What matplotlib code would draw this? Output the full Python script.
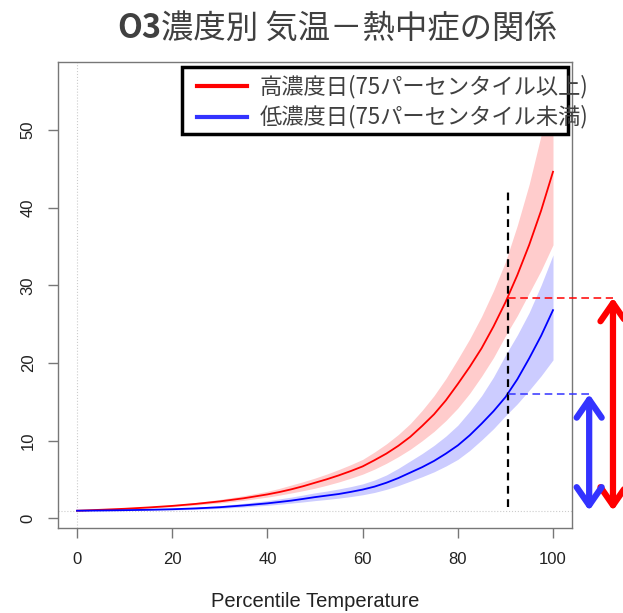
import matplotlib
matplotlib.use("Agg")
import matplotlib.pyplot as plt
from matplotlib.patches import Rectangle
from matplotlib.lines import Line2D

# percentile of temperature (denser above 40 where the curves bend)
pct = [0, 5, 10, 15, 20, 25, 30, 35,
       40, 42.5, 45, 47.5, 50, 52.5, 55, 57.5,
       60, 62.5, 65, 67.5, 70, 72.5, 75, 77.5, 80, 82.5,
       85, 87.5, 90, 92.5, 95, 97.5, 100]

# high-ozone days (>= 75th percentile): relative risk and 95% CI
high_rr = [1.0, 1.12, 1.25, 1.42, 1.62, 1.88, 2.2, 2.6,
           3.1, 3.4, 3.75, 4.15, 4.6, 5.05, 5.55, 6.1,
           6.7, 7.5, 8.35, 9.35, 10.5, 11.9, 13.4, 15.2, 17.3, 19.5,
           21.9, 24.7, 27.8, 31.3, 35.2, 39.6, 44.6]
high_lo = [1.0, 1.1, 1.2, 1.34, 1.5, 1.73, 2.0, 2.33,
           2.75, 3.0, 3.28, 3.58, 3.9, 4.28, 4.7, 5.18,
           5.7, 6.35, 7.1, 7.95, 8.9, 10.0, 11.2, 12.6, 14.2, 16.1,
           18.3, 20.7, 23.5, 26.1, 29.0, 31.9, 35.2]
high_hi = [1.0, 1.15, 1.3, 1.5, 1.75, 2.07, 2.45, 2.93,
           3.5, 3.87, 4.3, 4.73, 5.2, 5.72, 6.3, 6.92,
           7.6, 8.55, 9.6, 10.8, 12.2, 13.9, 15.8, 18.0, 20.5, 23.1,
           26.0, 29.3, 33.0, 37.7, 43.0, 49.3, 56.5]

# low-ozone days (< 75th percentile)
low_rr = [1.0, 1.03, 1.07, 1.12, 1.19, 1.3, 1.45, 1.68,
          1.95, 2.12, 2.3, 2.52, 2.75, 2.95, 3.15, 3.42,
          3.72, 4.1, 4.6, 5.2, 5.9, 6.6, 7.4, 8.35, 9.4, 10.7,
          12.2, 13.8, 15.6, 17.9, 20.6, 23.5, 26.8]
low_lo = [1.0, 1.01, 1.02, 1.05, 1.1, 1.18, 1.3, 1.48,
          1.7, 1.83, 1.98, 2.13, 2.3, 2.45, 2.62, 2.82,
          3.05, 3.35, 3.75, 4.23, 4.8, 5.37, 6.0, 6.75, 7.6, 8.75,
          10.1, 11.55, 13.2, 14.75, 16.5, 18.35, 20.4]
low_hi = [1.0, 1.06, 1.12, 1.2, 1.3, 1.45, 1.65, 1.95,
          2.3, 2.52, 2.75, 3.02, 3.3, 3.53, 3.8, 4.1,
          4.45, 4.95, 5.6, 6.45, 7.4, 8.35, 9.4, 10.6, 12.0, 13.8,
          15.8, 18.2, 21.0, 23.6, 26.5, 30.0, 33.9]

# value read at the 90th-ish percentile
ref_pct = 90.5
ref_high = 28.4
ref_low = 16.0

legend_labels = ["高濃度日(75パーセンタイル以上)", "低濃度日(75パーセンタイル未満)"]
title_bold = "O3"
title_rest = "濃度別 気温－熱中症の関係"
xlabel = "Percentile Temperature"

JP = ["Noto Sans CJK JP", "DejaVu Sans"]
plt.rcParams["font.family"] = ["Liberation Sans", "DejaVu Sans"]

fig = plt.figure(figsize=(6.23, 6.13), dpi=100)
ax = fig.add_axes([0.0931, 0.1387, 0.8251, 0.7602])

# confidence bands and curves
ax.fill_between(pct, high_lo, high_hi, color="#ffcccc", lw=0, zorder=1)
ax.fill_between(pct, low_lo, low_hi, color="#ccccff", lw=0, zorder=1)
ax.plot(pct, high_rr, color="#ff0000", lw=1.3, zorder=3)
ax.plot(pct, low_rr, color="#0000ff", lw=1.3, zorder=3)

# reference lines at RR = 1 and x = 0
ax.axhline(1, color="#cccccc", lw=0.8, ls=":", zorder=0)
ax.axvline(0, color="#cccccc", lw=0.8, ls=":", zorder=0)

# axis ranges: R style, 4% padding
lo_all = min(high_lo + low_lo)
hi_all = max(high_hi + low_hi)
pad = 0.04 * (hi_all - lo_all)
ax.set_xlim(-4, 104)
ax.set_ylim(lo_all - pad, hi_all + pad)

# vertical marker and horizontal dashes running out to the arrows
ax.plot([ref_pct, ref_pct], [1.5, 42.6], color="black", lw=1.6,
        ls=(0, (3.5, 2.5)), zorder=4)
ax.plot([ref_pct, 112.6], [ref_high, ref_high], color="#ff0000", lw=1.1,
        ls=(0, (5, 3)), clip_on=False, zorder=4)
ax.plot([ref_pct, 108.2], [ref_low, ref_low], color="#3333ff", lw=1.1,
        ls=(0, (5, 3)), clip_on=False, zorder=4)

arrow_style = "<->,head_length=1.3,head_width=0.9"
ax.annotate("", xy=(112.6, 1.0), xytext=(112.6, ref_high),
            arrowprops=dict(arrowstyle=arrow_style, color="#ff0000", lw=4.5,
                            mutation_scale=10, shrinkA=0, shrinkB=0),
            annotation_clip=False)
ax.annotate("", xy=(107.6, 1.0), xytext=(107.6, ref_low),
            arrowprops=dict(arrowstyle=arrow_style, color="#3333ff", lw=4.5,
                            mutation_scale=10, shrinkA=0, shrinkB=0),
            annotation_clip=False)

# axes styling
for s in ax.spines.values():
    s.set_color("#777777")
    s.set_linewidth(1.0)
ax.set_xticks([0, 20, 40, 60, 80, 100])
ax.set_yticks([0, 10, 20, 30, 40, 50])
ax.tick_params(axis="both", colors="#777777", length=7, width=1.0,
               labelsize=12, labelcolor="#222222")
ax.tick_params(axis="x", pad=10)
ax.tick_params(axis="y", pad=9)
for lab in ax.get_yticklabels():
    lab.set_rotation(90)
    lab.set_va("center")
ax.set_xlabel(xlabel, fontsize=14.5, color="#222222", labelpad=18)

# legend box drawn by hand so the text can run past the frame
ax.add_patch(Rectangle((0.241, 0.845), 0.751, 0.144, transform=ax.transAxes,
                       facecolor="white", edgecolor="black", lw=2.5,
                       zorder=10, clip_on=False))
for yy, col, lab in zip([0.948, 0.882], ["#ff0000", "#3333ff"], legend_labels):
    ax.add_line(Line2D([0.270, 0.367], [yy, yy], transform=ax.transAxes,
                       color=col, lw=3, zorder=11, clip_on=False))
    ax.text(0.393, yy, lab, transform=ax.transAxes, fontsize=16,
            family=JP, color="#404040", va="center", ha="left", zorder=11)

# title: bold "O3" followed by the regular part
ty = 1 - 29 / 613
t1 = fig.text(117 / 623, ty, title_bold, fontsize=23.3, weight="bold",
              family=JP, color="#404040", va="center", ha="left")
fig.canvas.draw()
bb = t1.get_window_extent()
fig.text(bb.x1 / fig.bbox.width, ty, title_rest, fontsize=23.3,
         family=JP, color="#404040", va="center", ha="left")

fig.savefig("out.png", dpi=100)
